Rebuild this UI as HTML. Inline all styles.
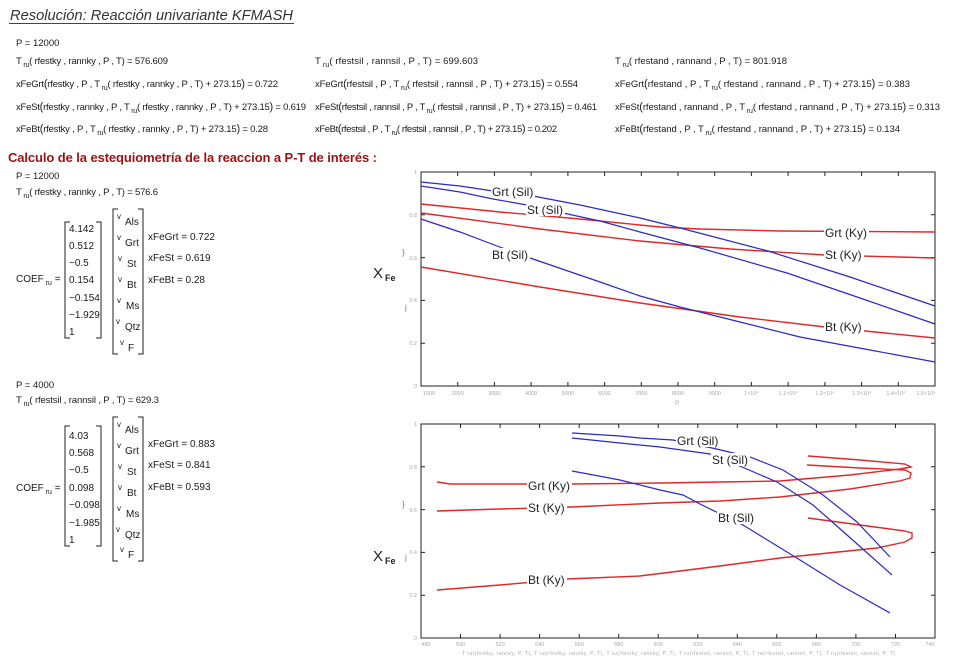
<!DOCTYPE html>
<html><head><meta charset="utf-8"><style>
html,body{margin:0;padding:0;background:#fff;}
svg{display:block;font-family:"Liberation Sans",Arial,sans-serif;}
.t{font-size:9.5px;fill:#1a1a1a;}
.m{font-size:10px;fill:#1a1a1a;}
.tk{font-size:5.5px;fill:#a8a8a8;}
.lb{font-size:12px;fill:#222;}
.blue{fill:none;stroke:#2a2ac6;stroke-width:1.2;}
.red{fill:none;stroke:#e02828;stroke-width:1.4;}
</style></head><body>
<svg width="960" height="664" viewBox="0 0 960 664" xmlns="http://www.w3.org/2000/svg">
<rect width="960" height="664" fill="#fff"/>

<!-- Title -->
<text x="10" y="20" font-size="15" font-style="italic" fill="#333" textLength="283" lengthAdjust="spacingAndGlyphs">Resolución: Reacción univariante KFMASH</text>
<line x1="9" y1="23.5" x2="294" y2="23.5" stroke="#444" stroke-width="1"/>

<text class="t" x="16" y="46">P = 12000</text>

<!-- Row 1 -->
<text class="t" x="16" y="64" textLength="152">T<tspan font-size="7" dy="3"> ru</tspan><tspan dy="-3">( rfestky , rannky , P , T) = 576.609</tspan></text>
<text class="t" x="315" y="64" textLength="163">T<tspan font-size="7" dy="3"> ru</tspan><tspan dy="-3">( rfestsil , rannsil , P , T) = 699.603</tspan></text>
<text class="t" x="615" y="64" textLength="172">T<tspan font-size="7" dy="3"> ru</tspan><tspan dy="-3">( rfestand , rannand , P , T) = 801.918</tspan></text>

<!-- Row 2 -->
<text class="t" x="16" y="87" textLength="262">xFeGrt<tspan font-size="11">(</tspan>rfestky , P , T<tspan font-size="7" dy="3"> ru</tspan><tspan dy="-3">( rfestky , rannky , P , T) + 273.15</tspan><tspan font-size="11">)</tspan> = 0.722</text>
<text class="t" x="315" y="87" textLength="263">xFeGrt<tspan font-size="11">(</tspan>rfestsil , P , T<tspan font-size="7" dy="3"> ru</tspan><tspan dy="-3">( rfestsil , rannsil , P , T) + 273.15</tspan><tspan font-size="11">)</tspan> = 0.554</text>
<text class="t" x="615" y="87" textLength="295">xFeGrt<tspan font-size="11">(</tspan>rfestand , P , T<tspan font-size="7" dy="3"> ru</tspan><tspan dy="-3">( rfestand , rannand , P , T) + 273.15</tspan><tspan font-size="11">)</tspan> = 0.383</text>

<!-- Row 3 -->
<text class="t" x="16" y="110" textLength="290">xFeSt<tspan font-size="11">(</tspan>rfestky , rannky , P , T<tspan font-size="7" dy="3"> ru</tspan><tspan dy="-3">( rfestky , rannky , P , T) + 273.15</tspan><tspan font-size="11">)</tspan> = 0.619</text>
<text class="t" x="315" y="110" textLength="282">xFeSt<tspan font-size="11">(</tspan>rfestsil , rannsil , P , T<tspan font-size="7" dy="3"> ru</tspan><tspan dy="-3">( rfestsil , rannsil , P , T) + 273.15</tspan><tspan font-size="11">)</tspan> = 0.461</text>
<text class="t" x="615" y="110" textLength="325">xFeSt<tspan font-size="11">(</tspan>rfestand , rannand , P , T<tspan font-size="7" dy="3"> ru</tspan><tspan dy="-3">( rfestand , rannand , P , T) + 273.15</tspan><tspan font-size="11">)</tspan> = 0.313</text>

<!-- Row 4 -->
<text class="t" x="16" y="132" textLength="252">xFeBt<tspan font-size="11">(</tspan>rfestky , P , T<tspan font-size="7" dy="3"> ru</tspan><tspan dy="-3">( rfestky , rannky , P , T) + 273.15</tspan><tspan font-size="11">)</tspan> = 0.28</text>
<text class="t" x="315" y="132" textLength="242">xFeBt<tspan font-size="11">(</tspan>rfestsil , P , T<tspan font-size="7" dy="3"> ru</tspan><tspan dy="-3">( rfestsil , rannsil , P , T) + 273.15</tspan><tspan font-size="11">)</tspan> = 0.202</text>
<text class="t" x="615" y="132" textLength="285">xFeBt<tspan font-size="11">(</tspan>rfestand , P , T<tspan font-size="7" dy="3"> ru</tspan><tspan dy="-3">( rfestand , rannand , P , T) + 273.15</tspan><tspan font-size="11">)</tspan> = 0.134</text>

<!-- Heading -->
<text x="8" y="162" font-size="13" font-weight="bold" fill="#9b1212" textLength="369">Calculo de la estequiometría de la reaccion a P-T de interés :</text>

<!-- Block 1 -->
<text class="t" x="16" y="179">P = 12000</text>
<text class="t" x="16" y="195" textLength="142">T<tspan font-size="7" dy="3"> ru</tspan><tspan dy="-3">( rfestky , rannky , P , T) = 576.6</tspan></text>
<text class="m" x="16" y="282">COEF<tspan font-size="7" dy="3"> ru</tspan><tspan dy="-3"> =</tspan></text>
<path d="M70,222H65V338H70M96,222H101V338H96" fill="none" stroke="#222" stroke-width="1"/>
<text class="m" x="69" y="232">4.142</text>
<text class="m" x="69" y="249">0.512</text>
<text class="m" x="69" y="266">−0.5</text>
<text class="m" x="69" y="283">0.154</text>
<text class="m" x="69" y="301">−0.154</text>
<text class="m" x="69" y="318">−1.929</text>
<text class="m" x="69" y="335">1</text>
<path d="M118,209H113V354H118M138,209H143V354H138" fill="none" stroke="#222" stroke-width="1"/>
<g class="m">
<text x="117" y="219" font-size="8">v</text><text x="125" y="225">Als</text>
<text x="117" y="240" font-size="8">v</text><text x="125" y="246">Grt</text>
<text x="118" y="261" font-size="8">v</text><text x="127" y="267">St</text>
<text x="118" y="282" font-size="8">v</text><text x="127" y="288">Bt</text>
<text x="117" y="303" font-size="8">v</text><text x="126" y="309">Ms</text>
<text x="116" y="324" font-size="8">v</text><text x="125" y="330">Qtz</text>
<text x="120" y="345" font-size="8">v</text><text x="128" y="351">F</text>
</g>
<text class="m" x="148" y="240">xFeGrt = 0.722</text>
<text class="m" x="148" y="261">xFeSt = 0.619</text>
<text class="m" x="148" y="283">xFeBt = 0.28</text>

<!-- Block 2 -->
<text class="t" x="16" y="388">P = 4000</text>
<text class="t" x="16" y="403" textLength="143">T<tspan font-size="7" dy="3"> ru</tspan><tspan dy="-3">( rfestsil , rannsil , P , T) = 629.3</tspan></text>
<text class="m" x="16" y="491">COEF<tspan font-size="7" dy="3"> ru</tspan><tspan dy="-3"> =</tspan></text>
<path d="M70,426H65V546H70M96,426H101V546H96" fill="none" stroke="#222" stroke-width="1"/>
<text class="m" x="69" y="439">4.03</text>
<text class="m" x="69" y="456">0.568</text>
<text class="m" x="69" y="473">−0.5</text>
<text class="m" x="69" y="491">0.098</text>
<text class="m" x="69" y="508">−0.098</text>
<text class="m" x="69" y="526">−1.985</text>
<text class="m" x="69" y="543">1</text>
<path d="M118,417H113V561H118M138,417H143V561H138" fill="none" stroke="#222" stroke-width="1"/>
<g class="m">
<text x="117" y="427" font-size="8">v</text><text x="125" y="433">Als</text>
<text x="117" y="448" font-size="8">v</text><text x="125" y="454">Grt</text>
<text x="118" y="469" font-size="8">v</text><text x="127" y="475">St</text>
<text x="118" y="490" font-size="8">v</text><text x="127" y="496">Bt</text>
<text x="117" y="511" font-size="8">v</text><text x="126" y="517">Ms</text>
<text x="116" y="532" font-size="8">v</text><text x="125" y="538">Qtz</text>
<text x="120" y="552" font-size="8">v</text><text x="128" y="558">F</text>
</g>
<text class="m" x="148" y="447">xFeGrt = 0.883</text>
<text class="m" x="148" y="468">xFeSt = 0.841</text>
<text class="m" x="148" y="490">xFeBt = 0.593</text>

<!-- ================= TOP CHART ================= -->
<rect x="421" y="172" width="514" height="214" fill="none" stroke="#222" stroke-width="1"/>
<path d="M457.7,172v4M494.4,172v4M531.1,172v4M567.9,172v4M604.6,172v4M641.3,172v4M678,172v4M714.7,172v4M751.4,172v4M788.1,172v4M824.9,172v4M861.6,172v4M898.3,172v4
M457.7,386v-4M494.4,386v-4M531.1,386v-4M567.9,386v-4M604.6,386v-4M641.3,386v-4M678,386v-4M714.7,386v-4M751.4,386v-4M788.1,386v-4M824.9,386v-4M861.6,386v-4M898.3,386v-4
M421,214.8h4M421,257.6h4M421,300.4h4M421,343.2h4M935,214.8h-4M935,257.6h-4M935,300.4h-4M935,343.2h-4" stroke="#222" stroke-width="1" fill="none"/>
<g class="tk" text-anchor="end">
<text x="417" y="174">1</text><text x="417" y="217">0.8</text><text x="417" y="260">0.6</text>
<text x="417" y="302">0.4</text><text x="417" y="345">0.2</text><text x="417" y="388">0</text>
</g>
<g class="tk" text-anchor="middle">
<text x="429" y="395">1000</text><text x="457.7" y="395">2000</text><text x="494.4" y="395">3000</text>
<text x="531.1" y="395">4000</text><text x="567.9" y="395">5000</text><text x="604.6" y="395">6000</text>
<text x="641.3" y="395">7000</text><text x="678" y="395">8000</text><text x="714.7" y="395">9000</text>
<text x="751.4" y="395">1×10⁴</text><text x="788.1" y="395">1.1×10⁴</text><text x="824.9" y="395">1.2×10⁴</text>
<text x="861.6" y="395">1.3×10⁴</text><text x="896" y="395">1.4×10⁴</text><text x="926" y="395">1.5×10⁴</text>
<text x="677" y="405" font-size="6">P</text>
</g>
<text x="373" y="278" font-size="15" fill="#222">X</text><text x="385" y="281" font-size="9" font-weight="bold" fill="#222">Fe</text>
<text x="402" y="255" font-size="8" fill="#777">}</text>
<text x="405" y="310" font-size="8" fill="#777">j</text>

<path class="red" d="M421,204 L500,212 L580,219 L660,227 L700,229 L780,231 L935,232"/>
<path class="red" d="M421,213 L540,229 L640,241 L730,249 L825,255 L935,258"/>
<path class="red" d="M421,267 L540,287 L640,303 L740,317 L825,327 L935,338"/>
<path class="blue" d="M421,182 L460,186 L493,191 L533,196 L580,205 L640,218 L680,228 L768,251 L850,277 L935,306"/>
<path class="blue" d="M421,186 L460,192 L493,199 L527,205 L563,213 L600,221 L640,232 L700,248 L787,273 L860,298 L935,324"/>
<path class="blue" d="M421,219 L460,232 L497,246 L530,258 L600,282 L640,296 L680,307 L740,322 L800,337 L870,350 L935,362"/>

<g fill="#fff">
<rect x="491" y="185" width="44" height="13"/>
<rect x="526" y="203" width="39" height="13"/>
<rect x="491" y="248" width="39" height="13"/>
<rect x="824" y="226" width="45" height="13"/>
<rect x="824" y="248" width="40" height="13"/>
<rect x="824" y="320" width="40" height="13"/>
</g>
<g class="lb">
<text x="492" y="196">Grt (Sil)</text>
<text x="527" y="214">St (Sil)</text>
<text x="492" y="259">Bt (Sil)</text>
<text x="825" y="237">Grt (Ky)</text>
<text x="825" y="259">St (Ky)</text>
<text x="825" y="331">Bt (Ky)</text>
</g>

<!-- ================= BOTTOM CHART ================= -->
<rect x="421" y="424" width="514" height="214" fill="none" stroke="#222" stroke-width="1"/>
<path d="M460.5,424v4M500.1,424v4M539.6,424v4M579.2,424v4M618.7,424v4M658.2,424v4M697.8,424v4M737.3,424v4M776.8,424v4M816.4,424v4M855.9,424v4M895.5,424v4
M460.5,638v-4M500.1,638v-4M539.6,638v-4M579.2,638v-4M618.7,638v-4M658.2,638v-4M697.8,638v-4M737.3,638v-4M776.8,638v-4M816.4,638v-4M855.9,638v-4M895.5,638v-4
M421,466.8h4M421,509.6h4M421,552.4h4M421,595.2h4M935,466.8h-4M935,509.6h-4M935,552.4h-4M935,595.2h-4" stroke="#222" stroke-width="1" fill="none"/>
<g class="tk" text-anchor="end">
<text x="417" y="426">1</text><text x="417" y="469">0.8</text><text x="417" y="512">0.6</text>
<text x="417" y="554">0.4</text><text x="417" y="597">0.2</text><text x="417" y="640">0</text>
</g>
<g class="tk" text-anchor="middle">
<text x="426" y="646">480</text><text x="460.5" y="646">500</text><text x="500.1" y="646">520</text>
<text x="539.6" y="646">540</text><text x="579.2" y="646">560</text><text x="618.7" y="646">580</text>
<text x="658.2" y="646">600</text><text x="697.8" y="646">620</text><text x="737.3" y="646">640</text>
<text x="776.8" y="646">660</text><text x="816.4" y="646">680</text><text x="855.9" y="646">700</text>
<text x="895.5" y="646">720</text><text x="930" y="646">740</text>
</g>
<text x="462" y="655" font-size="5" fill="#aaa" textLength="433">T ru(rfestky, rannky, P, T), T ru(rfestky, rannky, P, T), T ru(rfestky, rannky, P, T), T ru(rfestsil, rannsil, P, T), T ru(rfestsil, rannsil, P, T), T ru(rfestsil, rannsil, P, T)</text>
<text x="373" y="561" font-size="15" fill="#222">X</text><text x="385" y="564" font-size="9" font-weight="bold" fill="#222">Fe</text>
<text x="402" y="507" font-size="8" fill="#777">}</text>
<text x="405" y="560" font-size="8" fill="#777">j</text>

<path class="red" d="M437,482 L450,484 L572,484 L660,483 L720,482 L780,481 L850,475 L900,469 L911,467 L905,464 L860,460 L808,456"/>
<path class="red" d="M437,511 L500,509 L572,507 L660,503 L720,501 L780,497 L850,489 L900,481 L910,478 L911,473 L905,470 L860,468 L807,465"/>
<path class="red" d="M437,590 L500,585 L567,579 L640,576 L720,566 L780,558 L877,548 L905,542 L912,538 L912,533 L905,531 L860,525 L808,518"/>
<path class="blue" d="M572,433 L620,436 L640,438 L673,440 L712,448 L725,451 L750,457 L783,470 L823,495 L857,522 L890,557"/>
<path class="blue" d="M572,438 L620,443 L660,447 L710,454 L742,467 L777,482 L813,505 L847,535 L892,575"/>
<path class="blue" d="M572,471 L620,480 L660,490 L683,495 L700,504 L743,525 L800,560 L840,585 L890,613"/>

<g fill="#fff">
<rect x="527" y="479" width="45" height="13"/>
<rect x="527" y="501" width="40" height="13"/>
<rect x="527" y="573" width="40" height="13"/>
<rect x="676" y="434" width="44" height="13"/>
<rect x="711" y="453" width="39" height="13"/>
<rect x="717" y="511" width="39" height="13"/>
</g>
<g class="lb">
<text x="528" y="490">Grt (Ky)</text>
<text x="528" y="512">St (Ky)</text>
<text x="528" y="584">Bt (Ky)</text>
<text x="677" y="445">Grt (Sil)</text>
<text x="712" y="464">St (Sil)</text>
<text x="718" y="522">Bt (Sil)</text>
</g>
</svg>
</body></html>
